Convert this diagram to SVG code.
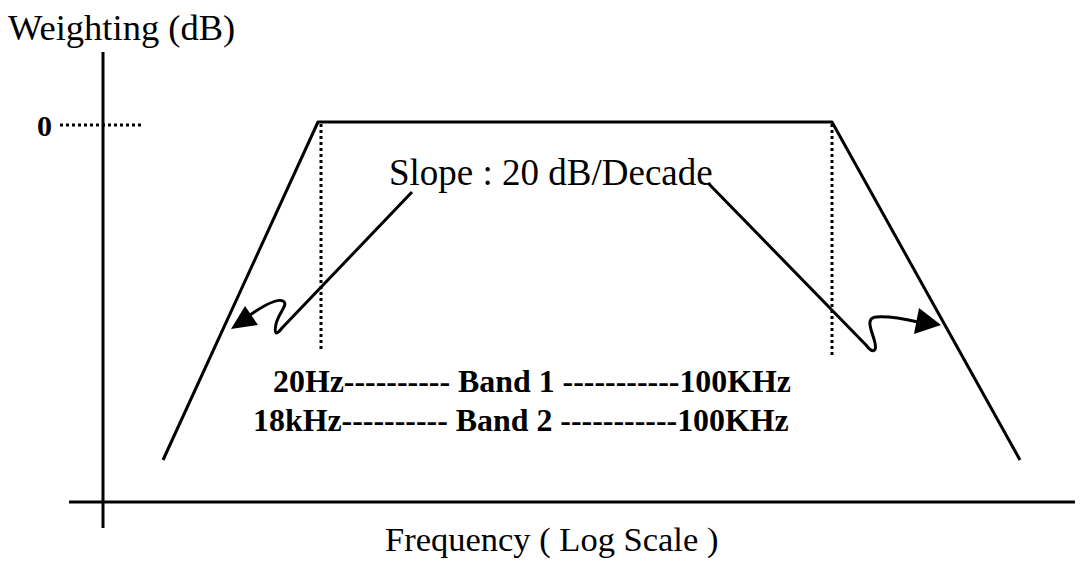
<svg xmlns="http://www.w3.org/2000/svg" width="1081" height="563" viewBox="0 0 1081 563">
<style>
.ax{stroke:#000;stroke-width:3;fill:none}
.ln{stroke:#000;stroke-width:3;fill:none;stroke-linejoin:round}
.dot{stroke:#000;stroke-width:3;stroke-dasharray:3 3;fill:none}
.t{font-family:"Liberation Serif","Times New Roman",serif;fill:#000}
.b{font-family:"Liberation Serif","Times New Roman",serif;font-weight:bold;fill:#000}
</style>
<rect width="1081" height="563" fill="#fff"/>
<g id="axes">
<line class="ax" x1="103" y1="52" x2="103" y2="528"/>
<line class="ax" x1="69" y1="502" x2="1075" y2="502"/>
<line class="dot" x1="60" y1="125" x2="143" y2="125"/>
<text class="b" x="37" y="136" font-size="30">0</text>
<text class="t" x="8" y="40" font-size="36.5">Weighting (dB)</text>
<text class="t" x="385" y="551" font-size="34.5">Frequency ( Log Scale )</text>
</g>
<g id="response">
<polyline class="ln" points="163,460 318,122 832,122 1020,460"/>
<line class="dot" x1="321" y1="124" x2="321" y2="352"/>
<line class="dot" x1="832" y1="124" x2="832" y2="355"/>
</g>
<g id="label">
<text class="t" x="389" y="185" font-size="37">Slope : 20 dB/Decade</text>
</g>
<g id="bands">
<text class="b" x="273" y="392" font-size="31.9">20Hz---------- Band 1 -----------100KHz</text>
<text class="b" x="253" y="431" font-size="31.9">18kHz---------- Band 2 -----------100KHz</text>
</g>
<g id="connectors">
<path class="ln" d="M412,192 L282,328 C276,336 274,334 276,324 C279,312 289,304 283,301 C277,298 263,306 250,315"/>
<polygon points="231,329 245,306 258,325" fill="#000"/>
<path class="ln" d="M708,183 L866,345 C872,353 877,353 875,343 C873,333 864,318 876,317 C889,316 905,319 918,322"/>
<polygon points="941,325 919,308 914,334" fill="#000"/>
</g>
</svg>
